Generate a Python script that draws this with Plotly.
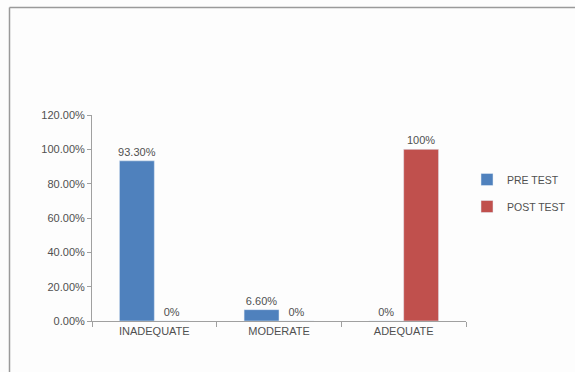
import plotly.graph_objects as go

categories = ["INADEQUATE", "MODERATE", "ADEQUATE"]
pre_test = [93.3, 6.6, 0]
post_test = [0, 0, 100]
pre_labels = ["93.30%", "6.60%", "0%"]
post_labels = ["0%", "0%", "100%"]
y_ticks = [0, 20, 40, 60, 80, 100, 120]
y_tick_labels = ["0.00%", "20.00%", "40.00%", "60.00%", "80.00%", "100.00%", "120.00%"]

font = dict(family="Liberation Sans, Arial, sans-serif", size=11, color="#505050")
legend_font = dict(family="Liberation Sans, Arial, sans-serif", size=10.5, color="#505050")

L, R, T, B = 92, 0, 115, 51
W, H = 575, 372
pw = W - L - R
ph = H - T - B
x_end = 466

fig = go.Figure()
fig.add_trace(go.Bar(x=categories, y=pre_test, name="PRE TEST", marker_color="#4F81BD",
                     text=pre_labels, textposition="outside", textfont=font, cliponaxis=False,
                     constraintext="none", legendgroup="a"))
fig.add_trace(go.Bar(x=categories, y=post_test, name="POST TEST", marker_color="#C0504D",
                     text=post_labels, textposition="outside", textfont=font, cliponaxis=False,
                     constraintext="none", legendgroup="b"))

fig.update_layout(
    width=W, height=H,
    margin=dict(l=L, r=R, t=T, b=B, autoexpand=False),
    paper_bgcolor="#FDFDFD", plot_bgcolor="#FDFDFD",
    barmode="group", bargap=0.44, bargroupgap=0,
    font=font,
    showlegend=True,
    legend=dict(x=(467 - L) / pw, y=(321 - 165) / ph, xanchor="left", yanchor="top",
                font=legend_font, tracegroupgap=8, bgcolor="rgba(0,0,0,0)", itemwidth=30),
    xaxis=dict(domain=[0, (x_end - L) / pw], showline=True, linecolor="#A0A0A0", linewidth=1,
               ticks="outside", tickson="boundaries", ticklen=5, tickcolor="#A0A0A0",
               showgrid=False),
    yaxis=dict(range=[0, 120], tickvals=y_ticks, ticktext=y_tick_labels, showline=True,
               linecolor="#A0A0A0", linewidth=1, ticks="outside", ticklen=4,
               tickcolor="#A0A0A0", showgrid=False, zeroline=False),
)
top_y = (H - B - 7.5) / ph
left_x = (9.5 - L) / pw
fig.add_shape(type="line", xref="paper", yref="paper", x0=left_x, x1=1.0,
              y0=top_y, y1=top_y, line=dict(color="#9A9A9A", width=1.5))
fig.add_shape(type="line", xref="paper", yref="paper", x0=left_x, x1=left_x,
              y0=top_y, y1=-B / ph, line=dict(color="#9A9A9A", width=1.5))

fig.write_html("out.html")
